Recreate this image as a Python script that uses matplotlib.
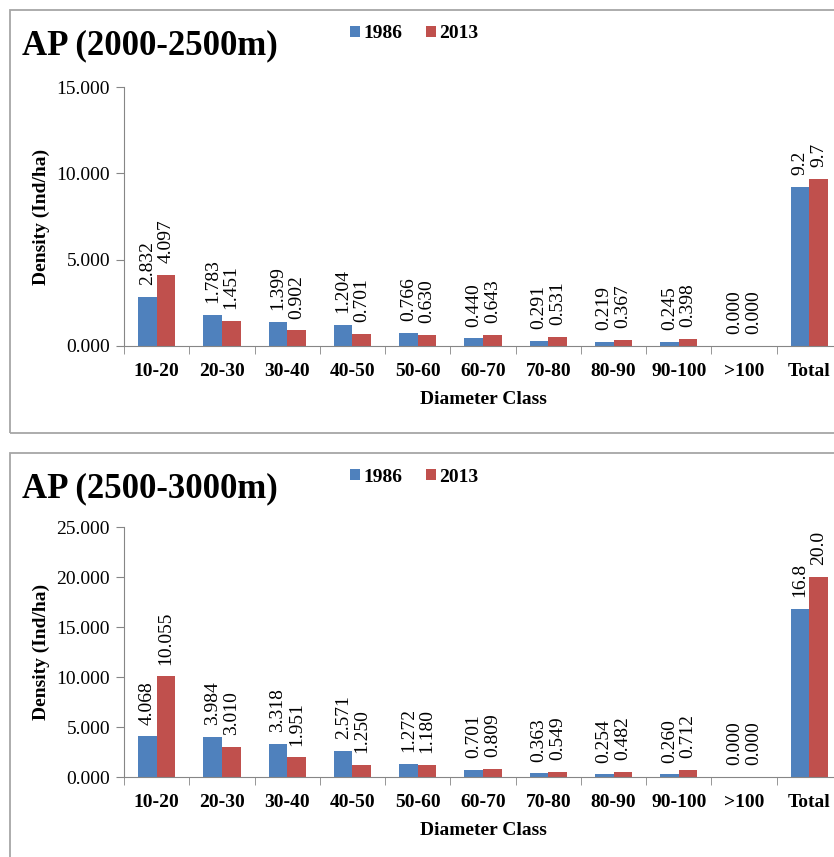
import matplotlib
matplotlib.use('Agg')
import matplotlib.pyplot as plt
from matplotlib.patches import Rectangle

# Density by diameter class, two altitude bands, survey years 1986 and 2013
CLASSES = ['10-20', '20-30', '30-40', '40-50', '50-60', '60-70',
           '70-80', '80-90', '90-100', '>100', 'Total']

# AP (2000-2500m)
LOW_1986 = [2.832, 1.783, 1.399, 1.204, 0.766, 0.440, 0.291, 0.219, 0.245, 0.000]
LOW_2013 = [4.097, 1.451, 0.902, 0.701, 0.630, 0.643, 0.531, 0.367, 0.398, 0.000]
LOW_TOTAL = [9.2, 9.7]

# AP (2500-3000m)
HIGH_1986 = [4.068, 3.984, 3.318, 2.571, 1.272, 0.701, 0.363, 0.254, 0.260, 0.000]
HIGH_2013 = [10.055, 3.010, 1.951, 1.250, 1.180, 0.809, 0.549, 0.482, 0.712, 0.000]
HIGH_TOTAL = [16.8, 20.0]

YEARS = ['1986', '2013']
COLORS = ['#4F81BD', '#C0504D']
AXIS_GREY = '#868686'
BOX_GREY = '#A6A6A6'

W, H = 834, 857
plt.rcParams['font.family'] = ['Liberation Serif', 'DejaVu Serif']


def px_box(left, top, right, bottom):
    # pixel box (from top-left) -> figure fraction [x, y, w, h]
    return [left / W, 1 - bottom / H, (right - left) / W, (bottom - top) / H]


def draw_panel(fig, ax_px, box_top, title, s1986, s2013, totals, ymax):
    # panel frame, running off the right/bottom edge
    fig.patches.append(Rectangle((10 / W, 1 - (box_top + 423) / H), 1.2, 423 / H,
                                 transform=fig.transFigure, fill=False,
                                 edgecolor=BOX_GREY, linewidth=1.3))
    ax = fig.add_axes(px_box(*ax_px))

    n = len(CLASSES)
    xs = list(range(n))
    bw = 0.285
    series = [s1986 + [totals[0]], s2013 + [totals[1]]]
    for k, vals in enumerate(series):
        offs = (k - 0.5) * bw
        ax.bar([x + offs for x in xs], vals, width=bw, color=COLORS[k],
               label=YEARS[k], edgecolor='none')
        for i, v in enumerate(vals):
            txt = f'{v:.1f}' if i == n - 1 else f'{v:.3f}'
            ax.annotate(txt, (i + offs, v), xytext=(0, 8.5), textcoords='offset points',
                        rotation=90, ha='center', va='bottom', fontsize=14)

    ax.set_xlim(-0.5, n - 0.5)
    ax.set_ylim(0, ymax)
    ax.set_yticks(range(0, ymax + 1, 5))
    ax.set_yticklabels([f'{t:.3f}' for t in range(0, ymax + 1, 5)], fontsize=14)
    ax.set_xticks(xs)
    ax.set_xticklabels(CLASSES, fontsize=14, fontweight='bold')
    ax.set_xticks([x - 0.5 for x in range(n + 1)], minor=True)
    ax.tick_params(axis='x', which='major', length=0, pad=12)
    ax.tick_params(axis='x', which='minor', length=6, color=AXIS_GREY, direction='out')
    ax.tick_params(axis='y', length=6, color=AXIS_GREY, direction='out', pad=4)
    for side in ['top', 'right']:
        ax.spines[side].set_visible(False)
    for side in ['left', 'bottom']:
        ax.spines[side].set_color(AXIS_GREY)
    ax.set_xlabel('Diameter Class', fontsize=14, fontweight='bold', labelpad=8)
    ax.set_ylabel('Density (Ind/ha)', fontsize=14, fontweight='bold', labelpad=5)

    fig.text(22 / W, 1 - (box_top + 36) / H, title, fontsize=25, fontweight='bold',
             ha='left', va='center')
    fig.legend(*ax.get_legend_handles_labels(), loc='center',
               bbox_to_anchor=(414 / W, 1 - (box_top + 24) / H), ncol=2, frameon=False,
               prop={'size': 14, 'weight': 'bold'}, handlelength=0.55, handleheight=0.55,
               handletextpad=0.15, columnspacing=1.2, borderpad=0)
    return ax


fig = plt.figure(figsize=(W / 100, H / 100), dpi=100)
draw_panel(fig, (124, 87, 842, 346), 10, 'AP (2000-2500m)',
           LOW_1986, LOW_2013, LOW_TOTAL, 15)
draw_panel(fig, (124, 527, 842, 777), 453, 'AP (2500-3000m)',
           HIGH_1986, HIGH_2013, HIGH_TOTAL, 25)

plt.savefig('out.png', dpi=100)
plt.close()
